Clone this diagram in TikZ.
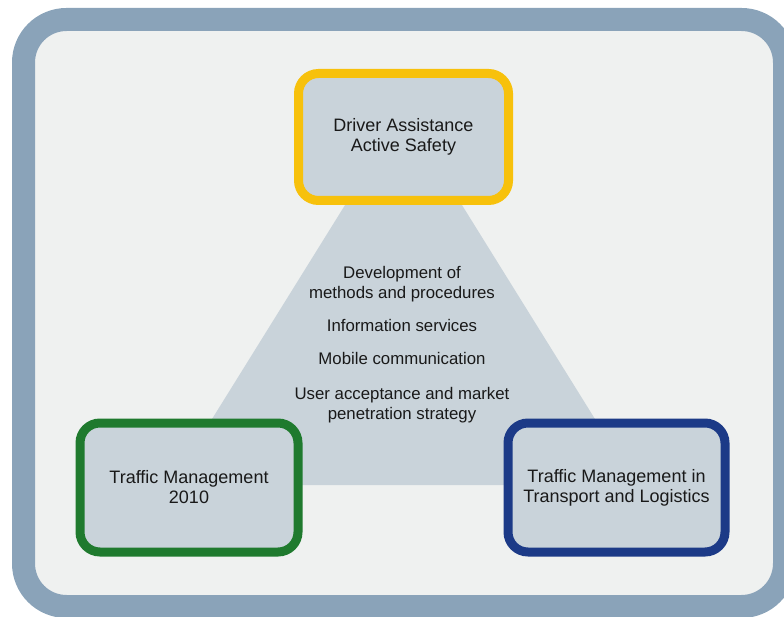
\documentclass[tikz,border=0pt]{standalone}
\usepackage{fontspec}
\setmainfont{Liberation Sans}
\definecolor{frameblue}{HTML}{8AA3B9}
\definecolor{panelgrey}{HTML}{EFF1F0}
\definecolor{boxfill}{HTML}{C9D3DA}
\definecolor{yellowb}{HTML}{F7C10C}
\definecolor{greenb}{HTML}{1F7A2E}
\definecolor{blueb}{HTML}{1C3A87}
\tikzset{
  topic/.style={draw, line width=9pt, rounded corners=20pt, fill=boxfill,
    align=center, text=black!90, font=\fontsize{18}{20}\selectfont, inner sep=0pt},
}
\begin{document}
\begin{tikzpicture}[x=1pt, y=-1pt]
\useasboundingbox (0,0) rectangle (784,617);
\clip (0,0) rectangle (784,617);
% outer frame
\draw[frameblue, fill=panelgrey, line width=23pt, rounded corners=43pt]
  (23.5,19.5) rectangle (784.5,606.5);
% central triangle
\coordinate (apex) at (403.5,111);
\coordinate (bl) at (171,485);
\coordinate (br) at (636,485);
\fill[boxfill] (apex) -- (bl) -- (br) -- cycle;
% boxes
\node[topic, draw=yellowb, minimum width=210pt, minimum height=127pt] (das) at (403.5,137) {Driver Assistance\\Active Safety};
\node[topic, draw=greenb, minimum width=218pt, minimum height=129pt] (tm) at (189,487.5) {Traffic Management\\2010};
\node[topic, draw=blueb, minimum width=217pt, minimum height=129pt] (tl) at (616.5,487.5) {Traffic Management in\\Transport and Logistics};
% centre text
\node[align=center, text=black!90, font=\fontsize{16.8}{20}\selectfont, inner sep=0pt] (core) at (402,344.5)
  {Development of\\methods and procedures\\[13pt]Information services\\[13pt]Mobile communication\\[15pt]User acceptance and market\\penetration strategy};
\end{tikzpicture}
\end{document}
